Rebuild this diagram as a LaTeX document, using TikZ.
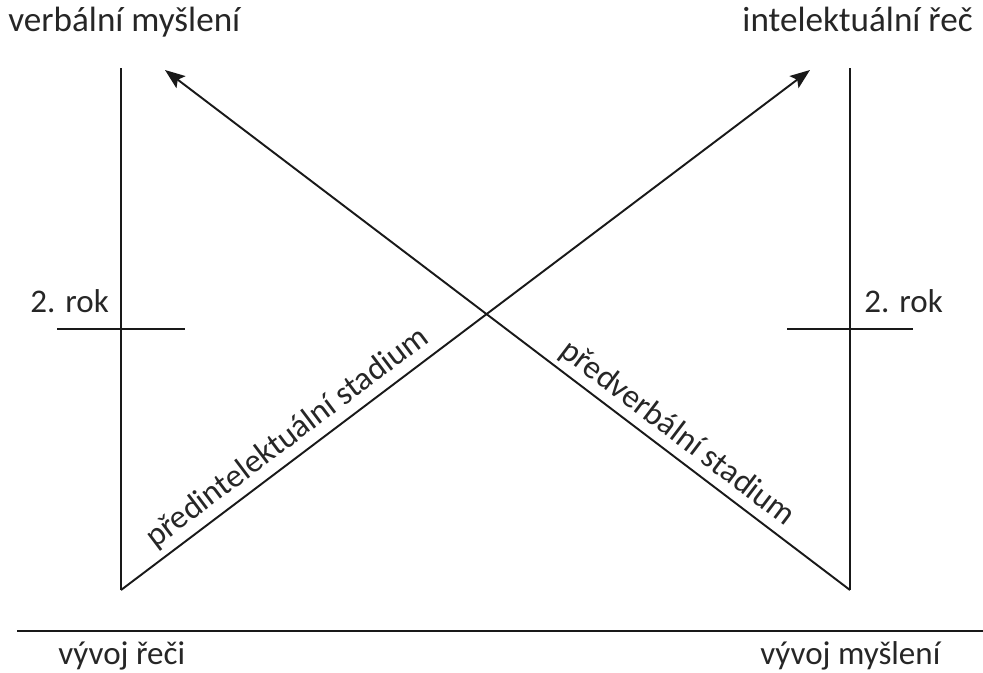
\documentclass[tikz,border=0pt]{standalone}
\usepackage{fontspec}
\setmainfont{Carlito}
\usepackage{tikz}
\usetikzlibrary{arrows.meta}
\newcommand{\linecolor}{black!90}
\newcommand{\labelcolor}{black!85}
\newcommand{\thickness}{1.1pt}
\tikzset{
  label text/.style={inner sep=0pt, text=\labelcolor, font=\fontsize{18.8}{22}\selectfont},
  stadium text/.style={sloped, above, text=\labelcolor, font=\fontsize{18.8}{22}\selectfont},
  axis line/.style={draw=\linecolor, line width=\thickness},
  growth arrow/.style={axis line, -{Stealth[length=4mm, width=3mm, inset=0.8mm]}}
}

\begin{document}
\begin{tikzpicture}
\useasboundingbox (0.0, 0.0) rectangle (19.66, -13.44);
%ends of the lines
\coordinate (1) at (2.42, -1.36);
\coordinate (2) at (2.42, -11.8);
\coordinate (3) at (17.0, -1.36);
\coordinate (4) at (17.0, -11.8);
\coordinate (5) at (16.2, -1.4);
\coordinate (6) at (3.3, -1.4);
\coordinate (7) at (1.14, -6.58);
\coordinate (8) at (3.7, -6.58);
\coordinate (9) at (15.74, -6.58);
\coordinate (10) at (18.26, -6.58);
\coordinate (11) at (0.34, -12.62);
\coordinate (12) at (19.66, -12.62);
%texts
\node[label text, font=\fontsize{20}{24}\selectfont, anchor=base west] (vm) at (0.16, -0.62) {verbální myšlení};
\node[label text, font=\fontsize{20}{24}\selectfont, anchor=base east] (ir) at (19.46, -0.62) {intelektuální řeč};
\node[label text, anchor=base west] (rok1) at (0.6, -6.24) {2. rok};
\node[label text, anchor=base west] (rok2) at (17.28, -6.24) {2. rok};
\node[label text, anchor=base west] (vr) at (1.16, -13.28) {vývoj řeči};
\node[label text, anchor=base west] (vmy) at (15.2, -13.28) {vývoj myšlení};
%axes
\draw[axis line] (1) -- (2);
\draw[axis line] (3) -- (4);
\draw[axis line] (7) -- (8);
\draw[axis line] (9) -- (10);
\draw[axis line] (11) -- (12);
%arrows
\draw[growth arrow] (2) -- (5) node[stadium text, pos=0.26] {předintelektuální stadium};
\draw[growth arrow] (4) -- (6);
\path (6) -- (4) node[stadium text, pos=0.73] {předverbální stadium};
\end{tikzpicture}
\end{document}
